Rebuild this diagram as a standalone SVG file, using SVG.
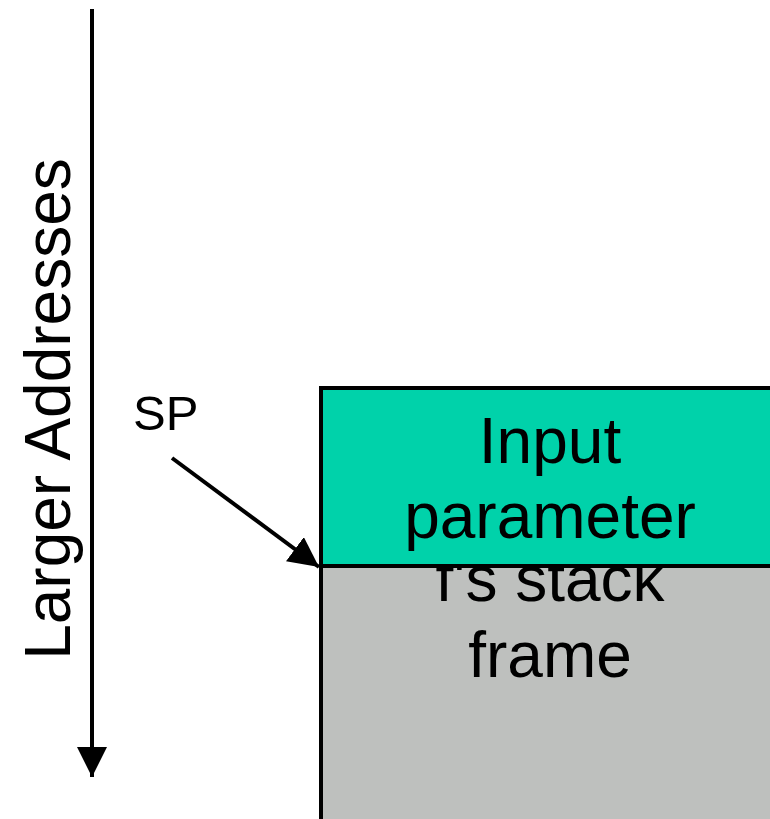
<svg xmlns="http://www.w3.org/2000/svg" width="770" height="819" viewBox="0 0 770 819">
  <style>
    .lbl { font-family: "Liberation Sans", Arial, sans-serif; fill: #000; }
    .big { font-size: 64px; text-anchor: middle; }
    .frame { stroke: #000; stroke-width: 4; }
    .conn { stroke: #000; stroke-width: 4; fill: none; }
  </style>
  <defs>
    <marker id="head" markerUnits="userSpaceOnUse" markerWidth="32" markerHeight="30" refX="30" refY="15" orient="auto">
      <path d="M0,0 L30,15 L0,30 Z" fill="#000"/>
    </marker>
  </defs>

  <rect width="770" height="819" fill="#fff"/>

  <!-- address axis label -->
  <text class="lbl" font-size="64" text-anchor="middle" transform="translate(70,409) rotate(-90)">Larger Addresses</text>

  <!-- caller-visible stack frame (lower block) -->
  <g id="stack-frame">
    <rect class="frame" x="321" y="566" width="470" height="270" fill="#BEC0BE"/>
    <text class="lbl big" x="550" y="601">f's stack</text>
    <text class="lbl big" x="550" y="677">frame</text>
  </g>

  <!-- input parameter slot (upper block) -->
  <g id="input-parameter">
    <rect class="frame" x="321" y="388" width="470" height="178" fill="#00D2AA"/>
    <text class="lbl big" x="550" y="463">Input</text>
    <text class="lbl big" x="550" y="538">parameter</text>
  </g>

  <g id="sp-label">
    <text class="lbl" font-size="49" x="133" y="430">SP</text>
  </g>

  <g id="connectors">
    <line class="conn" x1="92" y1="9" x2="92" y2="777" marker-end="url(#head)"/>
    <line class="conn" x1="172" y1="458" x2="319" y2="567" marker-end="url(#head)"/>
  </g>
</svg>
